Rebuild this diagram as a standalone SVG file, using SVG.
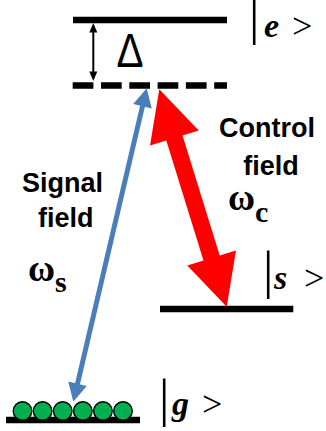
<svg xmlns="http://www.w3.org/2000/svg" width="326" height="431" viewBox="0 0 326 431">
<style>
.lvl{stroke:#000;stroke-width:6.5;fill:none}
.bar{font-family:"Liberation Serif",serif;font-size:52px;fill:#000}
.ket{font-family:"Liberation Serif",serif;font-size:36px;fill:#000}
.ketv{font-weight:bold;font-style:italic;font-size:34px}
.lab{font-family:"Liberation Sans",Arial,sans-serif;font-weight:bold;font-size:27px;fill:#000;text-anchor:middle}
.om{font-family:"Liberation Serif",serif;font-weight:bold;fill:#000}
.atom{fill:#00B050;stroke:#000;stroke-width:1.4}
</style>
<defs>
<marker id="hr" markerUnits="userSpaceOnUse" orient="auto-start-reverse" refX="0" refY="0" markerWidth="50" markerHeight="51" overflow="visible"><path d="M-1,-25.5 L50,0 L-1,25.5 z" fill="#FF0000"/></marker>
<marker id="hb" markerUnits="userSpaceOnUse" orient="auto-start-reverse" refX="0" refY="0" markerWidth="18" markerHeight="19" overflow="visible"><path d="M-0.5,-9.5 L18,0 L-0.5,9.5 z" fill="#4A7EBB"/></marker>
<marker id="hk" markerUnits="userSpaceOnUse" orient="auto-start-reverse" refX="0" refY="0" markerWidth="9" markerHeight="9" overflow="visible"><path d="M-0.5,-4 L9,0 L-0.5,4 z" fill="#000"/></marker>
</defs>

<g id="level-e">
<line class="lvl" x1="73" y1="20" x2="227" y2="20"/>
<text><tspan class="bar" x="249" y="34">|</tspan><tspan class="ket ketv" x="264" y="37">e</tspan><tspan class="ket" x="292" y="37.5">&gt;</tspan></text>
</g>

<g id="level-virtual">
<line class="lvl" x1="72.7" y1="85.5" x2="227" y2="85.5" stroke-dasharray="20.7 7.6"/>
</g>

<g id="detuning">
<text x="130" y="66.5" font-family="Liberation Sans,Arial,sans-serif" font-size="48" text-anchor="middle" textLength="27" lengthAdjust="spacingAndGlyphs">Δ</text>
</g>

<g id="level-s">
<line class="lvl" x1="160" y1="309" x2="293.3" y2="309"/>
<text><tspan class="bar" x="263" y="288">|</tspan><tspan class="ket ketv" x="274" y="289">s</tspan><tspan class="ket" x="304" y="289.5">&gt;</tspan></text>
</g>

<g id="level-g">
<line class="lvl" x1="6" y1="420" x2="140" y2="420"/>
<circle class="atom" cx="22.5" cy="411" r="9.3"/>
<circle class="atom" cx="42.6" cy="411" r="9.3"/>
<circle class="atom" cx="62.7" cy="411" r="9.3"/>
<circle class="atom" cx="82.8" cy="411" r="9.3"/>
<circle class="atom" cx="102.9" cy="411" r="9.3"/>
<circle class="atom" cx="123" cy="411" r="9.3"/>
<text><tspan class="bar" x="159" y="416">|</tspan><tspan class="ket ketv" x="172" y="415">g</tspan><tspan class="ket" x="202" y="415.5">&gt;</tspan></text>
</g>

<g id="signal-label">
<text class="lab" x="62.5" y="191.7">Signal</text>
<text class="lab" x="65.8" y="226.7">field</text>
<text class="om" x="28" y="280.7" font-size="37">ω<tspan font-size="30" dy="10.8">s</tspan></text>
</g>

<g id="control-label">
<text class="lab" x="267" y="136.7">Control</text>
<text class="lab" x="271" y="175">field</text>
<text class="om" x="228" y="210" font-size="37">ω<tspan font-size="30" dy="11.5">c</tspan></text>
</g>

<g id="connectors">
<line x1="93.3" y1="32" x2="93.3" y2="72" stroke="#000" stroke-width="2" marker-start="url(#hk)" marker-end="url(#hk)"/>
<line x1="142.6" y1="105.8" x2="77.4" y2="384.2" stroke="#4A7EBB" stroke-width="5" marker-start="url(#hb)" marker-end="url(#hb)"/>
<line x1="174.1" y1="137.1" x2="211.9" y2="258.9" stroke="#FF0000" stroke-width="17" marker-start="url(#hr)" marker-end="url(#hr)"/>
</g>
</svg>
